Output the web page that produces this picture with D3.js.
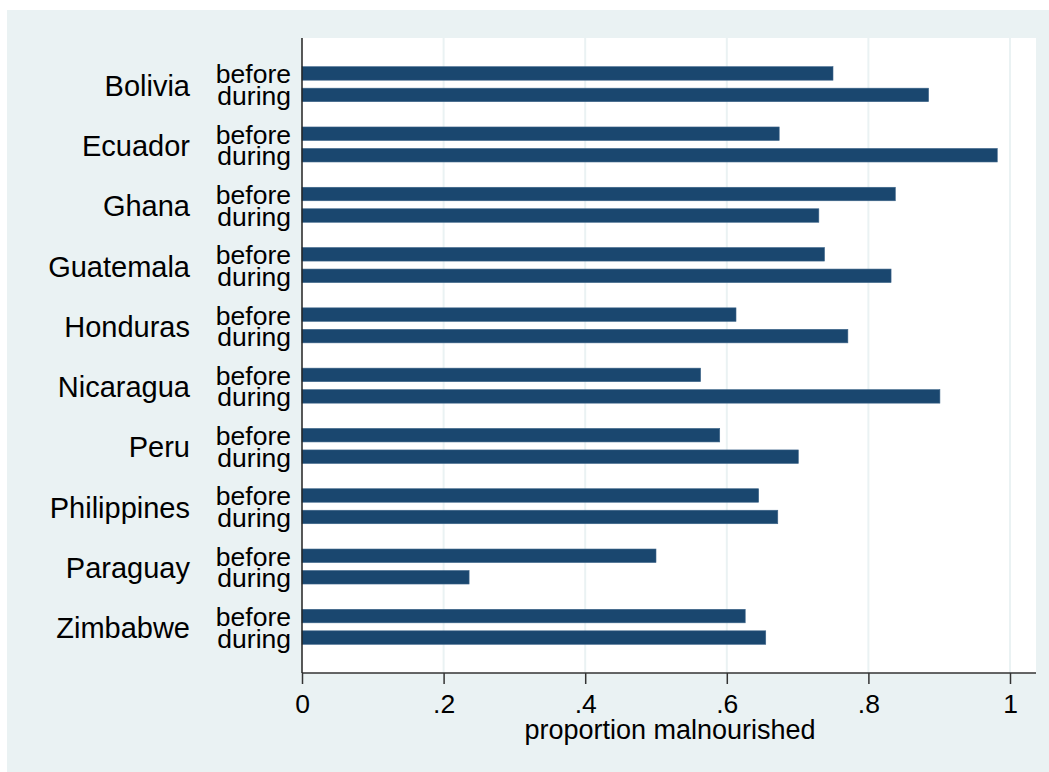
<!DOCTYPE html>
<html>
<head>
<meta charset="utf-8">
<script src="https://cdn.jsdelivr.net/npm/d3@7"></script>
<style>
  html, body { margin: 0; padding: 0; background: #ffffff; }
  svg { display: block; }
  text { font-family: "Liberation Sans", Arial, Helvetica, sans-serif; fill: #000; }
</style>
</head>
<body>
<svg id="chart" width="1049" height="772"></svg>
<script>
// Proportion malnourished, by country and period
const countries = ["Bolivia", "Ecuador", "Ghana", "Guatemala", "Honduras",
                   "Nicaragua", "Peru", "Philippines", "Paraguay", "Zimbabwe"];
const periods = ["before", "during"];
const beforeValues = [0.750, 0.674, 0.838, 0.738, 0.613, 0.563, 0.590, 0.645, 0.500, 0.626];
const duringValues = [0.885, 0.982, 0.730, 0.832, 0.771, 0.901, 0.701, 0.672, 0.236, 0.655];
const xTicks = [0, 0.2, 0.4, 0.6, 0.8, 1];
const xTitle = "proportion malnourished";

const rows = countries.map((c, i) => ({
  country: c,
  values: [
    { period: periods[0], value: beforeValues[i] },
    { period: periods[1], value: duringValues[i] }
  ]
}));

const W = 1049, H = 772;
const plot = { left: 302, right: 1036, top: 38, bottom: 673 };
const bg = "#eaf2f3";
const barColor = "#1a476f";

const svg = d3.select("#chart");

// graph region
svg.append("rect")
  .attr("x", 7).attr("y", 10)
  .attr("width", W - 7).attr("height", H - 10)
  .attr("fill", bg);

// plot region
svg.append("rect")
  .attr("x", plot.left).attr("y", plot.top)
  .attr("width", plot.right - plot.left).attr("height", plot.bottom - plot.top)
  .attr("fill", "#ffffff");

const x = d3.scaleLinear().domain([0, 1]).range([plot.left, plot.left + 708]);

const yGroup = d3.scalePoint()
  .domain(countries)
  .range([plot.top, plot.bottom])
  .padding(0.766);

const yInner = d3.scaleBand()
  .domain(periods)
  .range([-17.5, 17.5])
  .paddingInner(0.372);

// vertical gridlines
svg.append("g")
  .selectAll("line")
  .data(xTicks.filter(t => t > 0))
  .join("line")
  .attr("x1", d => x(d)).attr("x2", d => x(d))
  .attr("y1", plot.top).attr("y2", plot.bottom)
  .attr("stroke", bg)
  .attr("stroke-width", 2);

// bars
const groups = svg.append("g")
  .selectAll("g")
  .data(rows)
  .join("g")
  .attr("transform", d => `translate(0,${yGroup(d.country)})`);

groups.selectAll("rect")
  .data(d => d.values)
  .join("rect")
  .attr("x", x(0))
  .attr("y", d => yInner(d.period))
  .attr("width", d => x(d.value) - x(0))
  .attr("height", yInner.bandwidth())
  .attr("fill", barColor)
  .attr("stroke", "#3d6489")
  .attr("stroke-width", 0.6);

// period labels
groups.selectAll("text.period")
  .data(d => d.values)
  .join("text")
  .attr("class", "period")
  .attr("x", plot.left - 11)
  .attr("y", d => yInner(d.period) + yInner.bandwidth() / 2 + 10)
  .attr("text-anchor", "end")
  .attr("font-size", 26.5)
  .text(d => d.period);

// country labels
groups.append("text")
  .attr("x", 190)
  .attr("y", 11.5)
  .attr("text-anchor", "end")
  .attr("font-size", 29)
  .text(d => d.country);

// x axis
const xAxis = d3.axisBottom(x)
  .tickValues(xTicks)
  .tickSize(11)
  .tickPadding(10)
  .tickFormat(d => d === 0 ? "0" : d === 1 ? "1" : d3.format(".1f")(d).replace(/^0/, ""));

const gx = svg.append("g")
  .attr("transform", `translate(0,${plot.bottom})`)
  .call(xAxis);
gx.select(".domain").remove();
gx.selectAll(".tick line").attr("stroke", "#333").attr("stroke-width", 1.5);
gx.selectAll(".tick text")
  .attr("font-size", 26.5)
  .attr("font-family", "'Liberation Sans', Arial, sans-serif")
  .attr("fill", "#000");

gx.append("line")
  .attr("x1", plot.left).attr("x2", plot.right)
  .attr("y1", 0).attr("y2", 0)
  .attr("stroke", "#333").attr("stroke-width", 1.5);

// y axis line
svg.append("line")
  .attr("x1", plot.left).attr("x2", plot.left)
  .attr("y1", plot.top).attr("y2", plot.bottom)
  .attr("stroke", "#222").attr("stroke-width", 1.5);

// axis title
svg.append("text")
  .attr("x", (plot.left + plot.right) / 2 + 1)
  .attr("y", 739)
  .attr("text-anchor", "middle")
  .attr("font-size", 27)
  .text(xTitle);
</script>
</body>
</html>
